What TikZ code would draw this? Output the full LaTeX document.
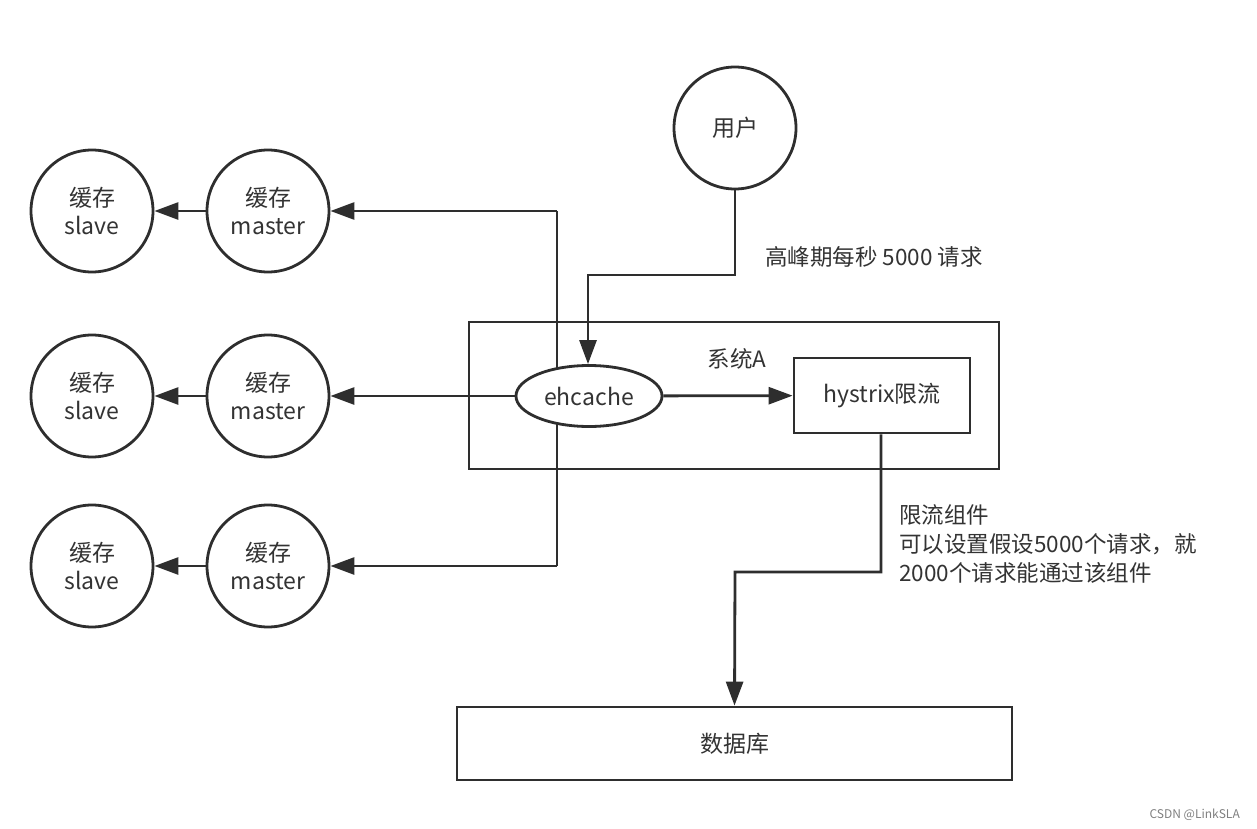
\documentclass[tikz,border=0pt]{standalone}
\usepackage{fontspec}
\setmainfont{Noto Sans CJK SC}
\usetikzlibrary{arrows.meta,shapes.geometric}
\definecolor{ink}{HTML}{2E2E2E}
\definecolor{txt}{HTML}{333333}
\begin{document}
\begin{tikzpicture}[x=1pt,y=-1pt,
  conn/.style={draw=ink,line width=2.8pt,-{Triangle[length=24pt,width=17pt]}},
  plain/.style={draw=ink,line width=2.8pt},
  cachenode/.style={circle,draw=ink,line width=2.8pt,minimum size=122pt,inner sep=0pt,align=center,font=\fontsize{23pt}{28pt}\selectfont,text=txt},
  boxnode/.style={rectangle,draw=ink,line width=2.8pt,inner sep=0pt,font=\fontsize{23pt}{27pt}\selectfont,text=txt},
  lbl/.style={font=\fontsize{22.5pt}{29pt}\selectfont,text=txt,inner sep=0pt}
]
\useasboundingbox[fill=white] (0,0) rectangle (1257,829);

% system A frame
\node[boxnode,minimum width=530pt,minimum height=147pt] (sysA) at (734,395.5) {};
\node[lbl] (sysAlbl) at (737,359) {系统A};

% vertical distribution line (drawn below the ehcache ellipse)
\coordinate (vtop) at (557,211);
\coordinate (vbot) at (557,566);
\draw[plain] (vtop) -- (vbot);

% nodes
\node[cachenode] (user) at (735,128) {用户};
\node[ellipse,draw=ink,fill=white,line width=2.8pt,minimum width=146pt,minimum height=61pt,inner sep=0pt,font=\fontsize{23pt}{27pt}\selectfont,text=txt] (eh) at (589,396) {ehcache};
\node[boxnode,minimum width=176pt,minimum height=75pt] (hys) at (882,395.5) {hystrix限流};
\node[boxnode,minimum width=555pt,minimum height=73pt] (db) at (734.5,743.5) {数据库};

\node[cachenode] (m1) at (268,211) {缓存\\master};
\node[cachenode] (m2) at (268,396) {缓存\\master};
\node[cachenode] (m3) at (268,566) {缓存\\master};
\node[cachenode] (s1) at (92,211) {缓存\\slave};
\node[cachenode] (s2) at (92,396) {缓存\\slave};
\node[cachenode] (s3) at (92,566) {缓存\\slave};

% master -> slave
\draw[conn] (m1) -- (s1);
\draw[conn] (m2) -- (s2);
\draw[conn] (m3) -- (s3);

% ehcache -> masters
\draw[conn] (vtop) -- (m1);
\draw[conn] (eh) -- (m2);
\draw[conn] (vbot) -- (m3);

% user -> ehcache
\draw[conn] (user.south) |- (588,275) -- (eh.north -| 588,0);
\node[lbl,anchor=west] (peak) at (765,257) {高峰期每秒 5000 请求};

% ehcache -> hystrix
\draw[conn] (eh) -- (hys);

% hystrix -> db
\draw[conn] (hys.south -| 881,0) |- (735,572) -- (db.north);
\node[lbl,anchor=north west,align=left] (note) at (899,504) {限流组件\\可以设置假设5000个请求，就\\2000个请求能通过该组件};

% watermark
\node[font=\fontsize{12pt}{14pt}\selectfont,text=gray,inner sep=0pt,anchor=east] (wm) at (1240,815) {CSDN @LinkSLA};
\end{tikzpicture}
\end{document}
